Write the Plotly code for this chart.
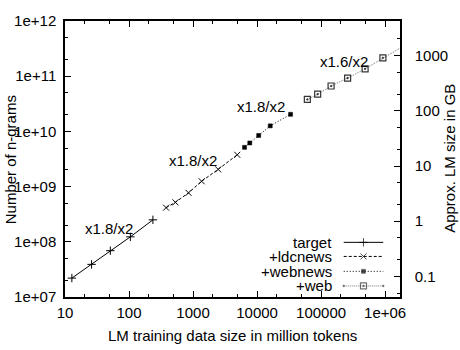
import plotly.graph_objects as go
import numpy as np

# ---- data ----
target_x = [12.8, 26, 51, 105, 236]
target_y = [2.2e7, 3.9e7, 6.9e7, 1.23e8, 2.5e8]

ldc_x = [379, 530, 849, 1361, 2466, 4898]
ldc_y = [4.15e8, 5.19e8, 7.71e8, 1.25e9, 2.05e9, 3.77e9]

webnews_x = [6368, 7690, 10590, 16040, 33340]
webnews_y = [5.14e9, 6.17e9, 8.45e9, 1.26e10, 2.04e10]

web_x = [60950, 88300, 143200, 259400, 486500, 922000, 1.72e6]
web_y = [3.79e10, 4.72e10, 6.65e10, 9.25e10, 1.36e11, 2.15e11, 3.24e11]

series_names = ["target", "+ldcnews", "+webnews", "+web"]
growth_labels = ["x1.8/x2", "x1.8/x2", "x1.8/x2", "x1.6/x2"]
growth_pos_x = [49.4, 980, 11380, 225000]
growth_pos_y = [1.76e8, 2.91e9, 2.82e10, 1.88e11]

x_ticks = [10, 100, 1000, 10000, 100000, 1000000]
x_tick_text = ["10", "100", "1000", "10000", "100000", "1e+06"]
y_ticks = [1e7, 1e8, 1e9, 1e10, 1e11, 1e12]
y_tick_text = ["1e+07", "1e+08", "1e+09", "1e+10", "1e+11", "1e+12"]
y2_ticks = [0.1, 1, 10, 100, 1000]
y2_tick_text = ["0.1", "1", "10", "100", "1000"]
GB_PER_NGRAM_LOG = 8.373  # log10(ngrams per GB)

FONT = "Liberation Sans, Arial, sans-serif"
FS = 15

styles = [
    dict(line=dict(color="black", width=1, dash="solid"),
         marker=dict(symbol="cross-thin", size=6, line=dict(color="black", width=1))),
    dict(line=dict(color="black", width=1, dash="3px,2px"),
         marker=dict(symbol="x-thin", size=6, line=dict(color="black", width=1))),
    dict(line=dict(color="black", width=1, dash="1px,2px"),
         marker=dict(symbol="square", size=4, color="black", line=dict(color="black", width=0.5))),
    dict(line=dict(color="#777777", width=1, dash="1px,1px"),
         marker=dict(symbol="square-open-dot", size=6, color="#333333", line=dict(color="#333333", width=1.2))),
]

fig = go.Figure()
for (xs, ys), st, nm in zip([(target_x, target_y), (ldc_x, ldc_y), (webnews_x, webnews_y), (web_x, web_y)],
                            styles, series_names):
    fig.add_trace(go.Scatter(x=xs, y=ys, mode="lines+markers", name=nm, showlegend=False,
                             line=st["line"], marker=st["marker"], cliponaxis=False))

# manual legend (text left of sample), drawn on a hidden overlay axis in [0,1]
leg_rows = [0.198, 0.147, 0.093, 0.040]
lx0, lx1, ltext = 0.832, 0.950, 0.802
for nm, st, yy in zip(series_names, styles, leg_rows):
    fig.add_trace(go.Scatter(x=[lx0, (lx0 + lx1) / 2, lx1], y=[yy, yy, yy], mode="lines+markers",
                             xaxis="x3", yaxis="y3", showlegend=False, hoverinfo="skip",
                             line=st["line"],
                             marker=dict(symbol=st["marker"]["symbol"], size=[0, st["marker"]["size"], 0],
                                         color=st["marker"].get("color", "black"),
                                         line=st["marker"]["line"])))
    fig.add_annotation(x=ltext, y=yy, xref="paper", yref="paper", text=nm, showarrow=False,
                       xanchor="right", yanchor="middle", font=dict(family=FONT, size=FS, color="black"))

for t, gx, gy in zip(growth_labels, growth_pos_x, growth_pos_y):
    fig.add_annotation(x=np.log10(gx), y=np.log10(gy), xref="x", yref="y", text=t, showarrow=False,
                       xanchor="center", yanchor="middle", font=dict(family=FONT, size=FS, color="black"))

# axis titles
title_font = dict(family=FONT, size=FS, color="black")
fig.add_annotation(x=-0.162, y=0.498, xref="paper", yref="paper", text="Number of n-grams",
                   textangle=-90, showarrow=False, xanchor="center", yanchor="middle", font=title_font)
fig.add_annotation(x=1.1475, y=0.502, xref="paper", yref="paper", text="Approx. LM size in GB",
                   textangle=-90, showarrow=False, xanchor="center", yanchor="middle", font=title_font)
fig.add_annotation(x=0.501, y=-0.140, xref="paper", yref="paper",
                   text="LM training data size in million tokens",
                   showarrow=False, xanchor="center", yanchor="middle", font=title_font)

axis_common = dict(showgrid=False, zeroline=False, showline=True, linecolor="black", linewidth=1.5,
                   ticks="inside", ticklen=6, tickcolor="black", tickwidth=1,
                   tickfont=dict(family=FONT, size=FS, color="black"))

fig.update_layout(
    width=460, height=350,
    margin=dict(l=65, r=56, t=18, b=53),
    paper_bgcolor="white", plot_bgcolor="white",
    xaxis=dict(type="log", range=[1, 6.232], tickvals=x_ticks, ticktext=x_tick_text, mirror="ticks",
               minor=dict(ticks="inside", ticklen=3, dtick="D2", tickcolor="black", showgrid=False),
               ticklabelstandoff=1, **axis_common),
    yaxis=dict(type="log", range=[7, 12], tickvals=y_ticks, ticktext=y_tick_text, mirror=True,
               minor=dict(ticks="inside", ticklen=3, dtick="D2", tickcolor="black", showgrid=False),
               ticklabelstandoff=4, **axis_common),
    yaxis2=dict(type="log", overlaying="y", side="right",
                range=[7 - GB_PER_NGRAM_LOG, 12 - GB_PER_NGRAM_LOG],
                tickvals=y2_ticks, ticktext=y2_tick_text,
                minor=dict(ticks="inside", ticklen=3, dtick="D2", tickcolor="black", showgrid=False),
                ticklabelstandoff=10, **axis_common),
    xaxis3=dict(overlaying="x", range=[0, 1], visible=False, fixedrange=True),
    yaxis3=dict(overlaying="y", range=[0, 1], visible=False, fixedrange=True),
)
# invisible trace to activate the y2 axis
fig.add_trace(go.Scatter(x=[web_x[0]], y=[web_y[0] / 10 ** GB_PER_NGRAM_LOG], yaxis="y2",
                         mode="markers", marker=dict(opacity=0), showlegend=False, hoverinfo="skip"))

fig.write_html("out.html")
